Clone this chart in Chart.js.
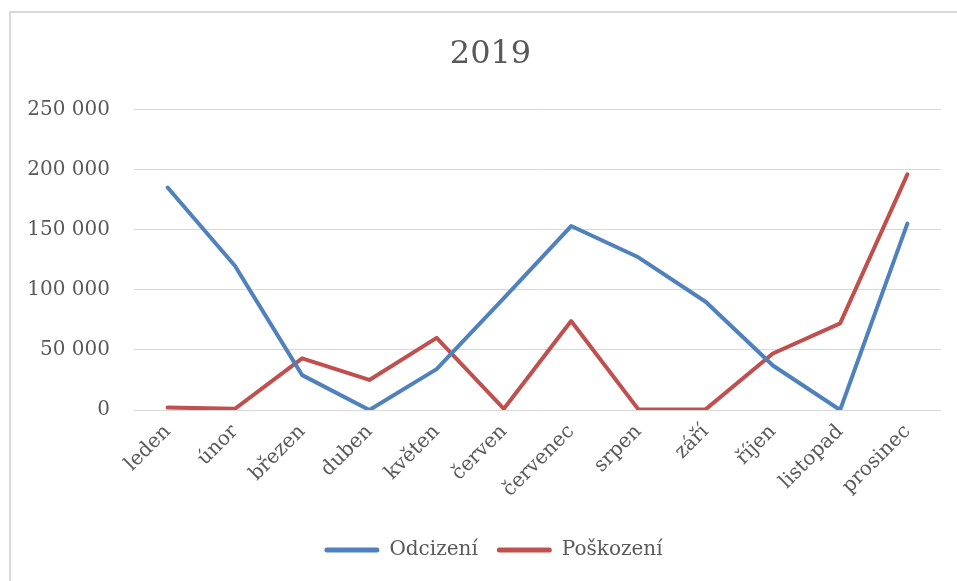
<!DOCTYPE html>
<html>
<head>
<meta charset="utf-8">
<script src="https://cdn.jsdelivr.net/npm/chart.js@4"></script>
<style>
    html, body { margin: 0; padding: 0; background: #fff; }
    #wrap { position: relative; width: 957px; height: 581px; overflow: hidden; }
    #frame { position: absolute; left: 9px; top: 11px; width: 1000px; height: 600px;
             border-left: 2px solid #d9d9d9; border-top: 2px solid #d9d9d9; }
    canvas { position: absolute; left: 0; top: 0; }
</style>
</head>
<body>
<div id="wrap">
    <div id="frame"></div>
    <canvas id="chart" width="957" height="581"></canvas>
</div>
<script>
// Data
const months = ['leden', 'únor', 'březen', 'duben', 'květen', 'červen',
                'červenec', 'srpen', 'září', 'říjen', 'listopad', 'prosinec'];
const odcizeni = [185000, 120000, 29000, 0, 34000, 93000, 153000, 127000, 90000, 37000, 0, 155000];
const poskozeni = [2000, 1000, 43000, 25000, 60000, 1000, 74000, 500, 500, 47000, 72000, 196000];
const yTicks = [0, 50000, 100000, 150000, 200000, 250000];

const textColor = '#595959';
const fontFamily = "'DejaVu Serif', serif";

// Thousands with a space, as in Czech Excel
function formatNumber(v) {
    return v.toString().replace(/\B(?=(\d{3})+(?!\d))/g, ' ');
}

// The original frame is wider than the window, so title and legend sit right of centre
const shiftBoxes = {
    id: 'shiftBoxes',
    afterLayout: function(chart) {
        if (chart.titleBlock) { chart.titleBlock.left += 20; chart.titleBlock.right += 20; }
        if (chart.legend) { chart.legend.left += 23; chart.legend.right += 23; }
    }
};

const ctx = document.getElementById('chart').getContext('2d');

new Chart(ctx, {
    type: 'line',
    data: {
        labels: months,
        datasets: [{
            label: 'Odcizení',
            data: odcizeni,
            borderColor: '#4f81bd',
            backgroundColor: '#4f81bd',
            borderWidth: 4,
            borderCapStyle: 'round',
            borderJoinStyle: 'round',
            pointRadius: 0,
            tension: 0
        }, {
            label: 'Poškození',
            data: poskozeni,
            borderColor: '#c0504d',
            backgroundColor: '#c0504d',
            borderWidth: 4,
            borderCapStyle: 'round',
            borderJoinStyle: 'round',
            pointRadius: 0,
            tension: 0
        }]
    },
    options: {
        responsive: false,
        animation: false,
        layout: {
            padding: { top: 19, right: 16, bottom: 11, left: 0 }
        },
        plugins: {
            title: {
                display: true,
                text: '2019',
                color: textColor,
                font: { family: fontFamily, size: 32, weight: 'normal' },
                padding: { top: 16, bottom: 36 }
            },
            legend: {
                position: 'bottom',
                labels: {
                    color: textColor,
                    font: { family: fontFamily, size: 20 },
                    boxWidth: 55,
                    boxHeight: 5,
                    useBorderRadius: true,
                    borderRadius: 2.5,
                    padding: 19,
                    generateLabels: function(chart) {
                        const items = Chart.defaults.plugins.legend.labels.generateLabels(chart);
                        items.forEach(function(item) { item.lineWidth = 0; });
                        return items;
                    }
                }
            },
            tooltip: { enabled: false }
        },
        scales: {
            x: {
                offset: true,
                grid: { display: false },
                border: { display: false },
                ticks: {
                    color: textColor,
                    font: { family: fontFamily, size: 20 },
                    minRotation: 45,
                    maxRotation: 45,
                    padding: 2
                },
                afterFit: function(scale) { scale.height = 111; }
            },
            y: {
                min: 0,
                max: 250000,
                afterBuildTicks: function(scale) {
                    scale.ticks = yTicks.map(function(v) { return { value: v }; });
                },
                grid: { color: '#d9d9d9', lineWidth: 1, drawTicks: false },
                border: { display: false },
                ticks: {
                    color: textColor,
                    font: { family: fontFamily, size: 20 },
                    padding: 24,
                    callback: function(v) { return formatNumber(v); }
                },
                afterFit: function(scale) { scale.width = 134; }
            }
        }
    },
    plugins: [shiftBoxes]
});
</script>
</body>
</html>
